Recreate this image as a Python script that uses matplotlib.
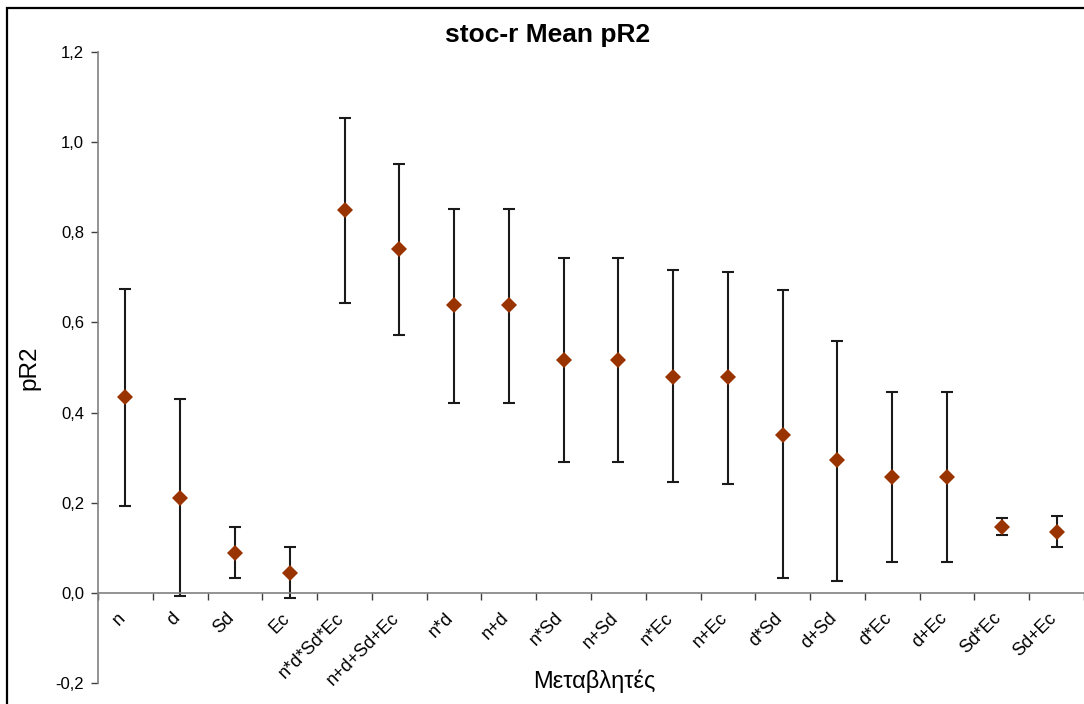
import matplotlib
matplotlib.use("Agg")
import matplotlib.pyplot as plt
import matplotlib.transforms as mtransforms
from matplotlib.patches import Rectangle
from matplotlib.ticker import FixedLocator, FuncFormatter

plt.rcParams['font.family'] = ['Liberation Sans', 'DejaVu Sans']

categories = ["n", "d", "Sd", "Ec", "n*d*Sd*Ec", "n+d+Sd+Ec", "n*d", "n+d",
              "n*Sd", "n+Sd", "n*Ec", "n+Ec", "d*Sd", "d+Sd", "d*Ec", "d+Ec",
              "Sd*Ec", "Sd+Ec"]
mean_pr2 = [0.434, 0.211, 0.089, 0.045, 0.849, 0.762, 0.638, 0.638,
            0.517, 0.517, 0.479, 0.479, 0.351, 0.294, 0.256, 0.256,
            0.147, 0.136]
upper = [0.675, 0.430, 0.147, 0.102, 1.053, 0.951, 0.852, 0.852,
         0.743, 0.743, 0.717, 0.712, 0.672, 0.558, 0.445, 0.445,
         0.166, 0.170]
lower = [0.192, -0.007, 0.034, -0.011, 0.642, 0.573, 0.422, 0.422,
         0.290, 0.290, 0.245, 0.241, 0.034, 0.026, 0.068, 0.068,
         0.128, 0.102]
y_ticks = [-0.2, 0.0, 0.2, 0.4, 0.6, 0.8, 1.0, 1.2]

W, H = 1084, 704
fig = plt.figure(figsize=(W / 100, H / 100), dpi=100)
ax = fig.add_axes([98 / W, 21 / H, (W - 98) / W, (683 - 52) / H])

x = [i + 0.5 for i in range(len(categories))]
err = [[m - lo for m, lo in zip(mean_pr2, lower)],
       [up - m for m, up in zip(mean_pr2, upper)]]
ax.errorbar(x, mean_pr2, yerr=err, fmt='none', ecolor='#1a1a1a',
            elinewidth=1.5, capsize=4.5, capthick=1.5, zorder=2)
ax.plot(x, mean_pr2, 'D', color='#993300', markersize=8,
        markeredgewidth=0, zorder=3)

ax.set_xlim(0, len(categories))
ax.set_ylim(-0.2, 1.2)

for s in ['top', 'right']:
    ax.spines[s].set_visible(False)
ax.spines['bottom'].set_position(('data', 0))
ax.spines['bottom'].set_color('#808080')
ax.spines['left'].set_color('#808080')
ax.spines['bottom'].set_linewidth(1.2)
ax.spines['left'].set_linewidth(1.2)

ax.set_yticks(y_ticks)
ax.yaxis.set_major_formatter(FuncFormatter(lambda v, p: f"{v:.1f}".replace('.', ',')))
ax.tick_params(axis='y', direction='out', length=5, width=1, color='#404040',
               labelsize=12, pad=5)

ax.set_xticks(x)
ax.set_xticklabels(categories, rotation=45, ha='right', rotation_mode='anchor')
ax.xaxis.set_minor_locator(FixedLocator(range(len(categories) + 1)))
ax.tick_params(axis='x', which='major', length=0, labelsize=13, pad=12)
ax.tick_params(axis='x', which='minor', direction='out', length=5, width=1,
               color='#404040')
offset = mtransforms.ScaledTranslation(-9 / 100, 0, fig.dpi_scale_trans)
for lab in ax.get_xticklabels():
    lab.set_transform(lab.get_transform() + offset)

fig.text(547.5 / W, (H - 41.7) / H, "stoc-r Mean pR2", ha='center',
         va='baseline', fontsize=19, fontweight='bold')
fig.text(29 / W, (H - 367.5) / H, "pR2", ha='center', va='center',
         rotation=90, fontsize=17.5)
fig.text(594 / W, (H - 688) / H, "Μεταβλητές", ha='center', va='baseline',
         fontsize=17)

fig.add_artist(Rectangle((7 / W, -0.1), 1.2, (H - 8) / H + 0.1,
                         transform=fig.transFigure, fill=False,
                         edgecolor='black', linewidth=1.6))

fig.savefig("out.png", dpi=100)
